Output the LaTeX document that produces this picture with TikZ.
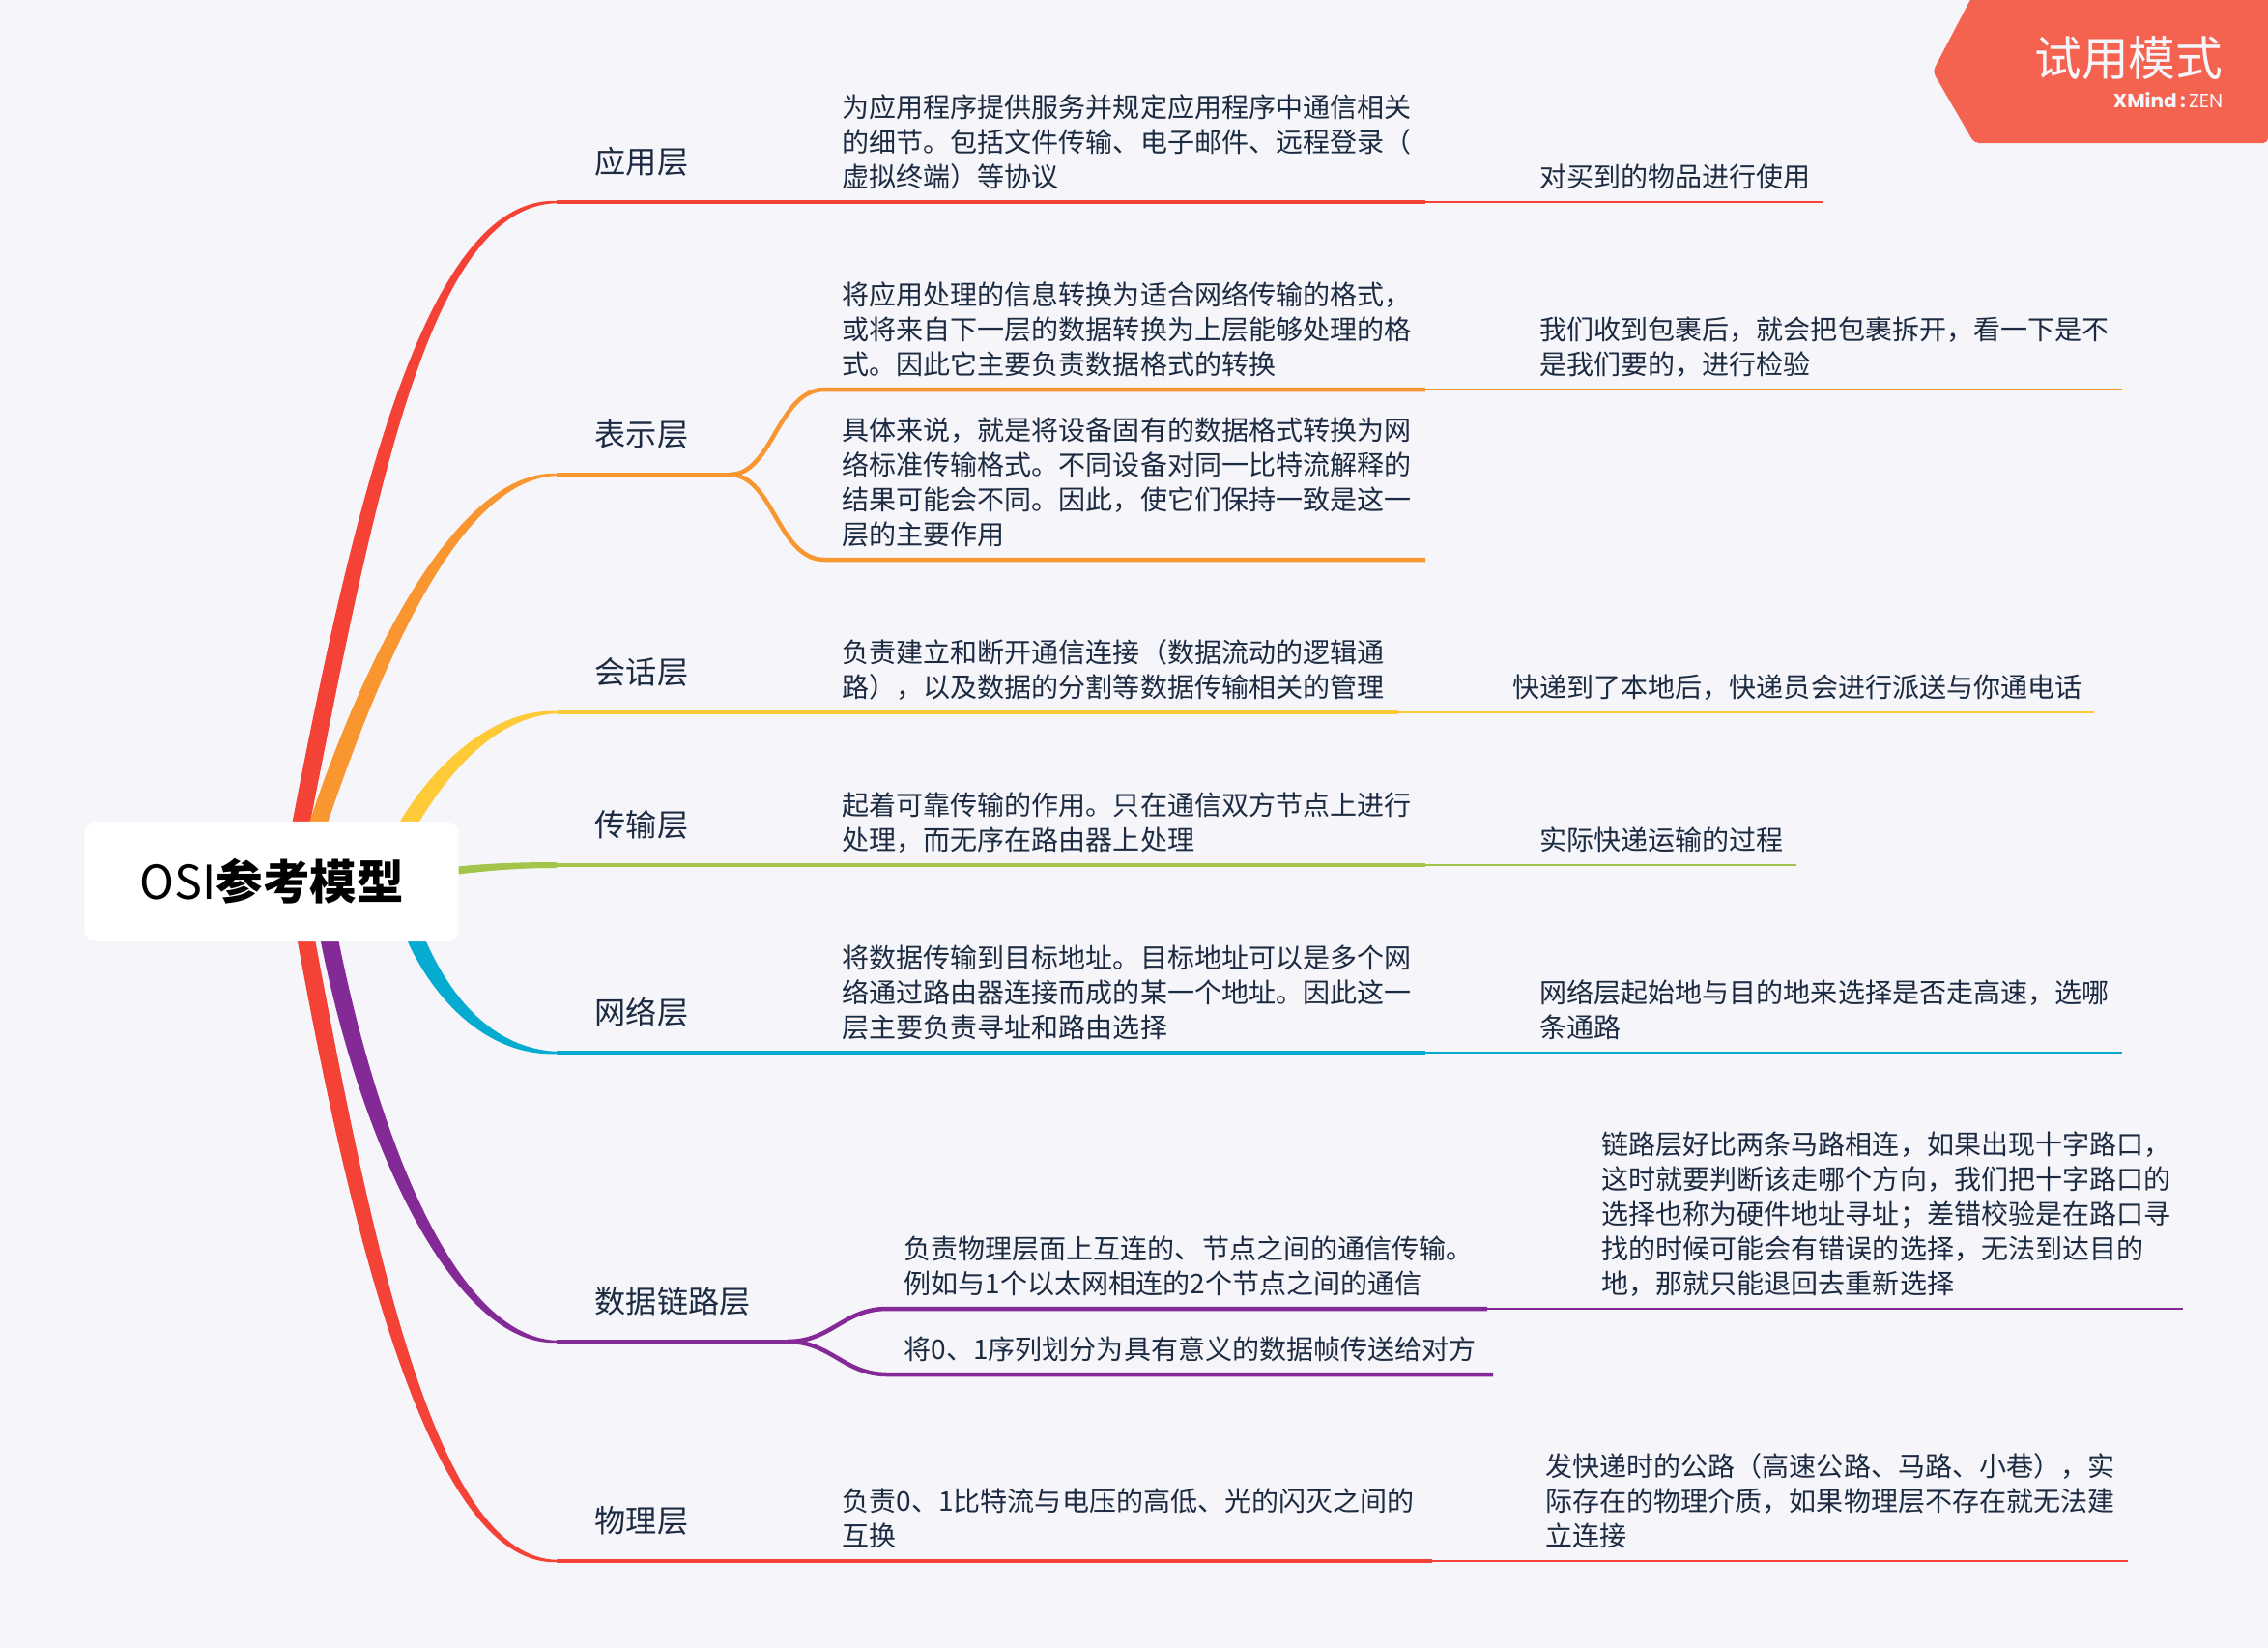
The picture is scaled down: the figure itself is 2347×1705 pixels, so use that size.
\documentclass[tikz,border=0pt]{standalone}
\usepackage{fontspec}
\setmainfont{Noto Sans CJK SC}
\newfontfamily\zenfont{Poppins}
\usetikzlibrary{calc}
\definecolor{pagebg}{HTML}{F5F5FA}
\definecolor{inktext}{HTML}{1C2B41}
\definecolor{mapred}{HTML}{F44336}
\definecolor{maporange}{HTML}{FA9630}
\definecolor{mapyellow}{HTML}{FFCA38}
\definecolor{mapgreen}{HTML}{A2C54A}
\definecolor{mapblue}{HTML}{06ACD0}
\definecolor{mappurple}{HTML}{842A96}
\definecolor{trialred}{HTML}{F46350}
\pgfdeclarelayer{back}
\pgfsetlayers{back,main}
\tikzset{
	layer/.style={anchor=base west, inner sep=0pt, text=inktext, font=\fontsize{9.15}{11}\selectfont},
	desc/.style={anchor=base west, inner sep=0pt, align=left, text=inktext, font=\fontsize{7.97}{10.2}\selectfont},
	thickline/.style={line width=0.045cm},
	thinline/.style={line width=0.02cm}
}
\begin{document}
\begin{tikzpicture}[x=0.01cm,y=-0.01cm]
	\useasboundingbox (0,0) rectangle (2347,1705);
	\begin{pgfonlayer}{back}
		\fill[pagebg] (0,0) rectangle (2347,1705);
	\end{pgfonlayer}

	% Central topic
	\node[fill=white, rounded corners=0.12cm, minimum width=3.87cm, minimum height=1.24cm, inner sep=0pt, font=\fontsize{13.8}{16}\selectfont] (osi) at (281,912) {OSI\textbf{参考模型}};

	% Start of each layer line
	\foreach \i/\y in {1/209,2/491,3/737,4/895,5/1089,6/1388,7/1615}
		{\coordinate (e\i) at (576,\y);}

	% Tapered branches out of the central topic
	\begin{pgfonlayer}{back}
		\foreach \i/\col/\sx/\ax/\ay/\bx/\s in {1/mapred/19/375/520/-136/-1, 2/maporange/29/375/700/-106/-1, 3/mapyellow/112/430/820/-76/-1, 5/mapblue/130/430/1000/-86/1, 6/mappurple/49/370/1160/-110/1, 7/mapred/25/375/1300/-126/1}
			{\fill[\col] ($(osi)+(\sx-9,0)$) .. controls (\ax-10,\ay+\s*6) and ($(e\i)+(\bx,\s*5)$) .. ($(e\i)+(0,\s*1.2)$) -- ($(e\i)+(0,0-\s*1.2)$) .. controls ($(e\i)+(\bx,0-\s*5)$) and (\ax+10,\ay-\s*6) .. ($(osi)+(\sx+9,0)$) -- cycle;}
		\fill[mapgreen] ($(osi.east)+(-14,-14)$) .. controls +(39,-5) and ($(e4)+(-36,-3)$) .. ($(e4)+(0,-3)$) -- ($(e4)+(0,3)$) .. controls ($(e4)+(-36,3)$) and ($(osi.east)+(35,-12)$) .. ($(osi.east)+(-14,-6)$) -- cycle;
	\end{pgfonlayer}

	% Layer names
	\foreach \i/\name in {1/应用层,2/表示层,3/会话层,4/传输层,5/网络层,6/数据链路层,7/物理层}
		{\node[layer] (l\i) at ($(e\i)+(39,-30)$) {\name};}

	% End of the thick line and of the thin line
	\foreach \i/\mx/\fx/\col in {1/1475/1887/mapred,3/1447/2167/mapyellow,4/1475/1859/mapgreen,5/1475/2196/mapblue,7/1482/2202/mapred}
		{\coordinate (m\i) at (\mx,0 |- e\i);
		\coordinate (f\i) at (\fx,0 |- e\i);
		\draw[thickline, \col] (e\i) -- (m\i);
		\draw[thinline, \col] (m\i) -- (f\i);}

	% Layers that split in two
	\coordinate (j2) at (755,491);
	\coordinate (u2) at (853,403);
	\coordinate (m2) at (1475,403);
	\coordinate (f2) at (2196,403);
	\coordinate (v2) at (853,579);
	\coordinate (n2) at (1475,579);
	\draw[thickline, maporange] (e2) -- (j2);
	\draw[thickline, maporange] (j2) .. controls +(45,0) and +(-48,0) .. (u2) -- (m2);
	\draw[thickline, maporange] (j2) .. controls +(45,0) and +(-48,0) .. (v2) -- (n2);
	\draw[thinline, maporange] (m2) -- (f2);

	\coordinate (j6) at (815,1388);
	\coordinate (u6) at (918,1354);
	\coordinate (m6) at (1539,1354);
	\coordinate (f6) at (2259,1354);
	\coordinate (v6) at (918,1422);
	\coordinate (n6) at (1545,1422);
	\draw[thickline, mappurple] (e6) -- (j6);
	\draw[thickline, mappurple] (j6) .. controls +(45,0) and +(-45,0) .. (u6) -- (m6);
	\draw[thickline, mappurple] (j6) .. controls +(45,0) and +(-45,0) .. (v6) -- (n6);
	\draw[thinline, mappurple] (m6) -- (f6);

	% What each layer does
	\node[desc] (d1) at (871,193) {为应用程序提供服务并规定应用程序中通信相关\\的细节。包括文件传输、电子邮件、远程登录（\\虚拟终端）等协议};
	\node[desc] (d2) at (871,387) {将应用处理的信息转换为适合网络传输的格式，\\或将来自下一层的数据转换为上层能够处理的格\\式。因此它主要负责数据格式的转换};
	\node[desc] (d2b) at (871,563) {具体来说，就是将设备固有的数据格式转换为网\\络标准传输格式。不同设备对同一比特流解释的\\结果可能会不同。因此，使它们保持一致是这一\\层的主要作用};
	\node[desc] (d3) at (871,721) {负责建立和断开通信连接（数据流动的逻辑通\\路），以及数据的分割等数据传输相关的管理};
	\node[desc] (d4) at (871,879) {起着可靠传输的作用。只在通信双方节点上进行\\处理，而无序在路由器上处理};
	\node[desc] (d5) at (871,1073) {将数据传输到目标地址。目标地址可以是多个网\\络通过路由器连接而成的某一个地址。因此这一\\层主要负责寻址和路由选择};
	\node[desc] (d6) at (935,1338) {负责物理层面上互连的、节点之间的通信传输。\\例如与1个以太网相连的2个节点之间的通信};
	\node[desc] (d6b) at (935,1406) {将0、1序列划分为具有意义的数据帧传送给对方};
	\node[desc] (d7) at (871,1599) {负责0、1比特流与电压的高低、光的闪灭之间的\\互换};

	% Parcel analogy
	\node[desc] (p1) at (1593,193) {对买到的物品进行使用};
	\node[desc] (p2) at (1593,387) {我们收到包裹后，就会把包裹拆开，看一下是不\\是我们要的，进行检验};
	\node[desc] (p3) at (1565,721) {快递到了本地后，快递员会进行派送与你通电话};
	\node[desc] (p4) at (1593,879) {实际快递运输的过程};
	\node[desc] (p5) at (1593,1073) {网络层起始地与目的地来选择是否走高速，选哪\\条通路};
	\node[desc] (p6) at (1657,1338) {链路层好比两条马路相连，如果出现十字路口，\\这时就要判断该走哪个方向，我们把十字路口的\\选择也称为硬件地址寻址；差错校验是在路口寻\\找的时候可能会有错误的选择，无法到达目的\\地，那就只能退回去重新选择};
	\node[desc] (p7) at (1599,1599) {发快递时的公路（高速公路、马路、小巷），实\\际存在的物理介质，如果物理层不存在就无法建\\立连接};

	% Trial badge
	\fill[trialred, rounded corners=0.05cm] (2043,-8) -- (2000,74) -- (2043,148) -- (2347,148) -- (2347,-8) -- cycle;
	\node[anchor=base east, inner sep=0pt, text=pagebg, font=\fontsize{13.85}{16}\selectfont] (trial) at (2301,78) {试用模式};
	\node[anchor=base east, inner sep=0pt, text=pagebg, font=\zenfont\fontsize{5.7}{7}\selectfont] (zen) at (2301,111) {\textbf{XMind\,:\,}ZEN};
\end{tikzpicture}
\end{document}
